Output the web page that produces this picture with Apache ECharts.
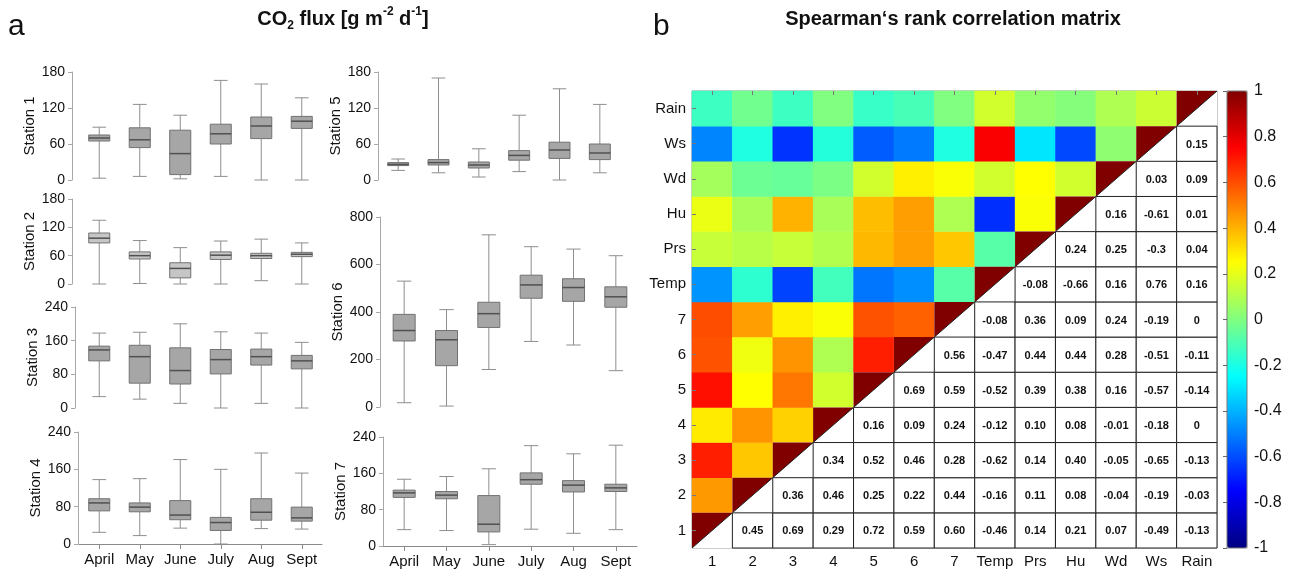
<!DOCTYPE html>
<html>

<head>
    <meta charset="utf-8" />
    <title>CO2 flux / Spearman</title>
    <script src="https://cdn.jsdelivr.net/npm/echarts@6/dist/echarts.min.js"></script>
    <style>
        html, body { margin: 0; padding: 0; background: #fff; }
        #main { width: 1293px; height: 572px; }
    </style>
</head>

<body>
    <div id="main"></div>
</body>

<script>
    // months on the x axis of every station
    var months = ['April', 'May', 'June', 'July', 'Aug', 'Sept'];

    // box data per station: [min, Q1, median, Q3, max] for each month
    var station1 = [[3, 65, 70, 75, 88], [6, 54, 67, 87, 126], [2, 9, 44, 83, 108], [6, 60, 77, 93, 166], [0, 69, 90, 105, 160], [0, 86, 98, 106, 137]];
    var station2 = [[0, 87, 97, 108, 135], [1, 53, 60, 68, 92], [0, 13, 33, 45, 77], [0, 52, 61, 68, 91], [7, 54, 60, 65, 95], [0, 58, 63, 67, 87]];
    var station3 = [[27, 112, 138, 147, 178], [21, 59, 122, 149, 180], [11, 57, 89, 143, 200], [0, 81, 115, 139, 181], [11, 102, 122, 140, 178], [0, 93, 112, 125, 156]];
    var station4 = [[25, 71, 88, 97, 138], [18, 69, 79, 88, 140], [34, 52, 62, 93, 181], [0, 29, 46, 57, 160], [33, 51, 68, 97, 195], [32, 49, 56, 79, 152]];
    var station5 = [[16, 24, 26, 29, 35], [12, 25, 29, 34, 170], [5, 20, 25, 30, 52], [14, 33, 41, 49, 108], [0, 36, 50, 63, 152], [12, 34, 45, 60, 126]];
    var station6 = [[18, 278, 322, 390, 530], [4, 174, 283, 322, 410], [158, 335, 393, 441, 725], [276, 458, 514, 555, 675], [261, 445, 503, 540, 665], [153, 420, 464, 506, 637]];
    var station7 = [[36, 107, 117, 123, 147], [34, 104, 112, 120, 153], [3, 31, 48, 111, 170], [37, 136, 146, 161, 221], [28, 119, 134, 144, 203], [36, 120, 128, 136, 222]];

    // correlation matrix variables (bottom to top / left to right)
    var vars = ['1', '2', '3', '4', '5', '6', '7', 'Temp', 'Prs', 'Hu', 'Wd', 'Ws', 'Rain'];
    // upper part: row i holds the values against vars[i+1..]
    var corrUpper = [
        ['0.45', '0.69', '0.29', '0.72', '0.59', '0.60', '-0.46', '0.14', '0.21', '0.07', '-0.49', '-0.13'],
        ['0.36', '0.46', '0.25', '0.22', '0.44', '-0.16', '0.11', '0.08', '-0.04', '-0.19', '-0.03'],
        ['0.34', '0.52', '0.46', '0.28', '-0.62', '0.14', '0.40', '-0.05', '-0.65', '-0.13'],
        ['0.16', '0.09', '0.24', '-0.12', '0.10', '0.08', '-0.01', '-0.18', '0'],
        ['0.69', '0.59', '-0.52', '0.39', '0.38', '0.16', '-0.57', '-0.14'],
        ['0.56', '-0.47', '0.44', '0.44', '0.28', '-0.51', '-0.11'],
        ['-0.08', '0.36', '0.09', '0.24', '-0.19', '0'],
        ['-0.08', '-0.66', '0.16', '0.76', '0.16'],
        ['0.24', '0.25', '-0.3', '0.04'],
        ['0.16', '-0.61', '0.01'],
        ['0.03', '0.09'],
        ['0.15']
    ];

    var FONT = 'Liberation Sans, Arial, sans-serif';
    var myChart = echarts.init(document.getElementById('main'));

    // build heatmap cells (colored side) and number cells (white side)
    var heatData = [];
    var numCells = [];
    var diagData = [];
    for (var i = 0; i < vars.length; i++) {
        diagData.push([i, i]);
        for (var j = i + 1; j < vars.length; j++) {
            var txt = corrUpper[i][j - i - 1];
            heatData.push([i, j, parseFloat(txt)]);
            numCells.push({ value: [j, i], label: txt });
        }
    }

    // one station box chart = one grid
    var stations = [
        { name: 'Station 1', data: station1, max: 180, step: 60, grid: { left: 79, top: 72, width: 243, height: 108 }, off: 7 },
        { name: 'Station 2', data: station2, max: 180, step: 60, grid: { left: 79, top: 199, width: 243, height: 85 }, off: 7, light: true },
        { name: 'Station 3', data: station3, max: 240, step: 80, grid: { left: 79, top: 307, width: 243, height: 101 }, off: 4 },
        { name: 'Station 4', data: station4, max: 240, step: 80, grid: { left: 79, top: 432, width: 243, height: 112 }, off: 1, bottom: true },
        { name: 'Station 5', data: station5, max: 180, step: 60, grid: { left: 378, top: 72, width: 242, height: 108 }, off: 0 },
        { name: 'Station 6', data: station6, max: 800, step: 200, grid: { left: 383, top: 217, width: 254, height: 190 }, off: 3 },
        { name: 'Station 7', data: station7, max: 240, step: 80, grid: { left: 383, top: 437, width: 254, height: 109 }, off: 0, bottom: true }
    ];

    function boxRender(fill) {
        return function (params, api) {
            var x = api.value(0);
            var lo = api.coord([x, api.value(1)]);
            var q1 = api.coord([x, api.value(2)]);
            var md = api.coord([x, api.value(3)]);
            var q3 = api.coord([x, api.value(4)]);
            var hi = api.coord([x, api.value(5)]);
            var bw = api.size([1, 0])[0] * 0.52;
            var cw = bw * 0.65;
            var cx = lo[0];
            var wh = { stroke: '#8e8e8e', lineWidth: 1 };
            return {
                type: 'group',
                children: [
                    { type: 'line', shape: { x1: cx, y1: hi[1], x2: cx, y2: q3[1] }, style: wh },
                    { type: 'line', shape: { x1: cx, y1: q1[1], x2: cx, y2: lo[1] }, style: wh },
                    { type: 'line', shape: { x1: cx - cw / 2, y1: hi[1], x2: cx + cw / 2, y2: hi[1] }, style: wh },
                    { type: 'line', shape: { x1: cx - cw / 2, y1: lo[1], x2: cx + cw / 2, y2: lo[1] }, style: wh },
                    { type: 'rect', shape: { x: cx - bw / 2, y: q3[1], width: bw, height: q1[1] - q3[1] }, style: { fill: fill, stroke: '#727272', lineWidth: 1 } },
                    { type: 'line', shape: { x1: cx - bw / 2, y1: md[1], x2: cx + bw / 2, y2: md[1] }, style: { stroke: '#505050', lineWidth: 1.5 } }
                ]
            };
        };
    }

    var grids = [], xAxes = [], yAxes = [], series = [];
    stations.forEach(function (s, k) {
        grids.push(s.grid);
        xAxes.push({
            type: 'category', gridIndex: k, data: months,
            axisLine: { show: !!s.bottom, lineStyle: { color: '#8a8a8a' } },
            axisTick: { show: !!s.bottom, alignWithLabel: true, length: 5, lineStyle: { color: '#8a8a8a' } },
            axisLabel: { show: !!s.bottom, interval: 0, fontSize: 15, color: '#111', fontFamily: FONT, margin: 8 },
            splitLine: { show: false }
        });
        yAxes.push({
            type: 'value', gridIndex: k, min: 0, max: s.max, interval: s.step, offset: s.off,
            name: s.name, nameLocation: 'middle', nameRotate: 90, nameGap: 32,
            nameTextStyle: { fontSize: 15, color: '#111', fontFamily: FONT },
            axisLine: { show: true, lineStyle: { color: '#a8a8a8' } },
            axisTick: { show: true, length: 4, lineStyle: { color: '#a8a8a8' } },
            axisLabel: { fontSize: 14, color: '#111', fontFamily: FONT, margin: 7 },
            splitLine: { show: false }
        });
        series.push({
            type: 'custom', xAxisIndex: k, yAxisIndex: k,
            renderItem: boxRender(s.light ? '#c6c6c6' : '#a6a6a6'),
            encode: { x: 0, y: [1, 2, 3, 4, 5] },
            data: s.data.map(function (d, m) { return [m].concat(d); })
        });
    });

    // heatmap grid + colorbar grid
    grids.push({ left: 692, top: 91, width: 525, height: 457, show: true, borderColor: '#9a9a9a', borderWidth: 1 });
    grids.push({ left: 1227, top: 91, width: 20, height: 457, show: true, borderColor: '#777', borderWidth: 1, z: 10 });

    xAxes.push({
        type: 'category', gridIndex: 7, data: vars,
        axisLine: { show: false }, axisTick: { show: false },
        axisLabel: { interval: 0, fontSize: 15, color: '#111', fontFamily: FONT, margin: 6 }
    });
    xAxes.push({
        type: 'category', gridIndex: 7, data: vars, position: 'top', z: 10,
        axisLine: { show: false },
        axisTick: { show: true, inside: true, interval: 0, alignWithLabel: true, length: 4, lineStyle: { color: '#777' } },
        axisLabel: { show: false }
    });
    xAxes.push({ type: 'value', gridIndex: 8, min: 0, max: 1, show: false });

    yAxes.push({
        type: 'category', gridIndex: 7, data: vars, z: 10,
        axisLine: { show: false },
        axisTick: { show: true, inside: true, interval: 0, alignWithLabel: true, length: 4, lineStyle: { color: '#777' } },
        axisLabel: { interval: 0, fontSize: 15, color: '#111', fontFamily: FONT, margin: 6 }
    });
    yAxes.push({
        type: 'value', gridIndex: 8, min: -1, max: 1, interval: 0.2, position: 'right', z: 11,
        axisLine: { show: false },
        axisTick: { show: true, inside: true, length: 4, lineStyle: { color: '#666' } },
        axisLabel: {
            fontSize: 16, color: '#111', fontFamily: FONT, margin: 7,
            formatter: function (v) { return String(Math.round(v * 10) / 10); }
        },
        splitLine: { show: false }
    });

    // colored lower-left cells
    series.push({
        type: 'heatmap', xAxisIndex: 7, yAxisIndex: 7,
        data: heatData,
        itemStyle: { borderWidth: 0 },
        emphasis: { disabled: true }
    });

    // diagonal: dark red upper-left half, white lower-right half
    series.push({
        type: 'custom', xAxisIndex: 7, yAxisIndex: 7,
        encode: { x: 0, y: 1 },
        data: diagData,
        renderItem: function (params, api) {
            var c = api.coord([api.value(0), api.value(1)]);
            var sz = api.size([1, 1]);
            var l = c[0] - sz[0] / 2, r = c[0] + sz[0] / 2, t = c[1] - sz[1] / 2, b = c[1] + sz[1] / 2;
            return {
                type: 'group',
                children: [
                    { type: 'rect', shape: { x: l, y: t, width: sz[0], height: sz[1] }, style: { fill: '#fff' } },
                    { type: 'polygon', shape: { points: [[l, t], [r, t], [l, b]] }, style: { fill: '#800000' } },
                    { type: 'line', shape: { x1: l, y1: b, x2: r, y2: t }, style: { stroke: '#222', lineWidth: 1 } }
                ]
            };
        }
    });

    // white number cells
    series.push({
        type: 'custom', xAxisIndex: 7, yAxisIndex: 7,
        encode: { x: 0, y: 1 },
        data: numCells.map(function (c) { return c.value; }),
        renderItem: function (params, api) {
            var c = api.coord([api.value(0), api.value(1)]);
            var sz = api.size([1, 1]);
            return {
                type: 'group',
                children: [
                    { type: 'rect', shape: { x: c[0] - sz[0] / 2, y: c[1] - sz[1] / 2, width: sz[0], height: sz[1] }, style: { fill: '#fff', stroke: '#222', lineWidth: 1 } },
                    {
                        type: 'text', x: c[0], y: c[1] + 1,
                        style: { text: numCells[params.dataIndex].label, align: 'center', verticalAlign: 'middle', font: 'bold 11px ' + FONT, fill: '#111' }
                    }
                ]
            };
        }
    });

    var option = {
        animation: false,
        textStyle: { fontFamily: FONT },
        title: [
            { text: 'a', left: 8, top: 12, padding: 0, textStyle: { fontSize: 30, fontWeight: 'normal', color: '#111', fontFamily: FONT } },
            { text: 'b', left: 653, top: 12, padding: 0, textStyle: { fontSize: 30, fontWeight: 'normal', color: '#111', fontFamily: FONT } },
            {
                text: '{t|CO}{sub|2}{t| flux [g m}{sup|-2}{t| d}{sup|-1}{t|]}',
                left: 343, top: 6, padding: 0, textAlign: 'center',
                textStyle: {
                    fontFamily: FONT,
                    rich: {
                        t: { fontSize: 20, fontWeight: 'bold', color: '#111', lineHeight: 26, fontFamily: FONT },
                        sub: { fontSize: 12, fontWeight: 'bold', color: '#111', verticalAlign: 'bottom', lineHeight: 14, fontFamily: FONT },
                        sup: { fontSize: 12, fontWeight: 'bold', color: '#111', verticalAlign: 'top', lineHeight: 14, fontFamily: FONT }
                    }
                }
            },
            {
                text: 'Spearman\u2018s rank correlation matrix',
                left: 953, top: 9, padding: 0, textAlign: 'center',
                textStyle: { fontSize: 20, fontWeight: 'bold', color: '#111', fontFamily: FONT }
            }
        ],
        grid: grids,
        xAxis: xAxes,
        yAxis: yAxes,
        visualMap: {
            type: 'continuous', seriesIndex: 7, dimension: 2,
            min: -1, max: 1, calculable: false, realtime: false,
            left: 1227, top: 91, padding: 0, itemWidth: 20, itemHeight: 457,
            text: null, showLabel: false, hoverLink: false,
            inRange: { color: ['#000080', '#0000ff', '#0080ff', '#00ffff', '#80ff80', '#ffff00', '#ff8000', '#ff0000', '#800000'] }
        },
        series: series
    };

    myChart.setOption(option);
</script>

</html>
